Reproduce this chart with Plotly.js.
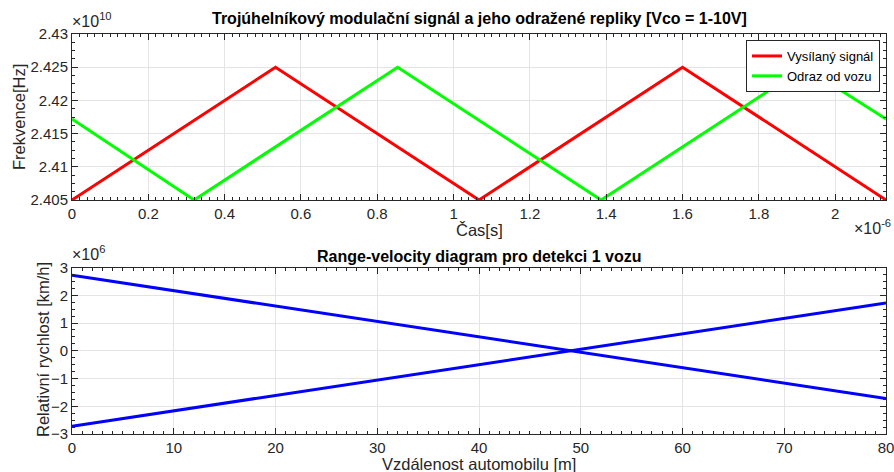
<!DOCTYPE html>
<html>
<head>
<meta charset="utf-8">
<script src="https://cdn.plot.ly/plotly-3.0.1.min.js"></script>
<style>
html,body{margin:0;padding:0;background:#fff;}
#chart{width:894px;height:472px;}
</style>
</head>
<body>
<div id="chart"></div>
<script>
// Top subplot: time in units of 1e-6 s, frequency in units of 1e10 Hz
const txTime = [0, 0.5333, 1.0667, 1.6, 2.1333];
const txFreq = [2.405, 2.425, 2.405, 2.425, 2.405];
const rxTime = [0, 0.32, 0.8533, 1.3867, 1.92, 2.1333];
const rxFreq = [2.4172, 2.405, 2.425, 2.405, 2.425, 2.4172];
const topNames = ["Vysílaný signál", "Odraz od vozu"];

// Bottom subplot: distance in m, relative velocity in units of 1e6 km/h
const distance = [0, 80];
const velLineA = [2.72, -1.72];
const velLineB = [-2.72, 1.72];

const FONT = 'Arial, "Liberation Sans", Helvetica, sans-serif';
const AX = '#262626';
const GRID = '#e4e4e4';

function axisBase(extra) {
  return Object.assign({
    showline: true, linecolor: AX, linewidth: 1, mirror: 'ticks',
    ticks: 'inside', ticklen: 6, tickwidth: 1, tickcolor: AX,
    showgrid: true, gridcolor: GRID, gridwidth: 1,
    zeroline: false, automargin: false, ticklabeloverflow: 'allow',
    tickfont: {family: FONT, size: 15, color: AX}
  }, extra);
}

const traces = [
  {x: txTime, y: txFreq, name: topNames[0], type: 'scatter', mode: 'lines',
   line: {color: '#ff0000', width: 3}, xaxis: 'x', yaxis: 'y'},
  {x: rxTime, y: rxFreq, name: topNames[1], type: 'scatter', mode: 'lines',
   line: {color: '#00ff00', width: 3}, xaxis: 'x', yaxis: 'y'},
  {x: distance, y: velLineA, type: 'scatter', mode: 'lines', showlegend: false,
   line: {color: '#0000ff', width: 3}, xaxis: 'x2', yaxis: 'y2'},
  {x: distance, y: velLineB, type: 'scatter', mode: 'lines', showlegend: false,
   line: {color: '#0000ff', width: 3}, xaxis: 'x2', yaxis: 'y2'}
];

const xd = [72/894, 886/894];
const topDom = [(472-200)/472, (472-34)/472];
const botDom = [(472-434)/472, (472-267.5)/472];

const layout = {
  width: 894, height: 472,
  margin: {l: 0, r: 0, t: 0, b: 0},
  paper_bgcolor: '#ffffff', plot_bgcolor: '#ffffff',
  font: {family: FONT, color: AX},
  showlegend: true,
  legend: {
    x: 880/894, xanchor: 'right', y: (472-40)/472, yanchor: 'top',
    bgcolor: '#ffffff', bordercolor: AX, borderwidth: 1,
    font: {family: FONT, size: 13, color: '#000'},
    tracegroupgap: 0, itemwidth: 30
  },
  xaxis: axisBase({domain: xd, anchor: 'y', range: [0, 2.1333], dtick: 0.2, tick0: 0, ticklabelstandoff: 0,
    minor: {dtick: 0.02, ticklen: 3, tickcolor: AX, ticks: 'inside', showgrid: false}}),
  yaxis: axisBase({domain: topDom, anchor: 'x', range: [2.405, 2.43], dtick: 0.005, tick0: 2.405,
    tickformat: '.3~f',
    minor: {dtick: 0.00125, ticklen: 3, tickcolor: AX, ticks: 'inside', showgrid: false}}),
  xaxis2: axisBase({domain: xd, anchor: 'y2', range: [0, 80], dtick: 10, tick0: 0, ticklabelstandoff: 0,
    minor: {dtick: 1, ticklen: 3, tickcolor: AX, ticks: 'inside', showgrid: false}}),
  yaxis2: axisBase({domain: botDom, anchor: 'x2', range: [-3, 3], dtick: 1, tick0: 0,
    minor: {dtick: 0.25, ticklen: 3, tickcolor: AX, ticks: 'inside', showgrid: false}}),
  annotations: [
    {text: '<b>Trojúhelníkový modulační signál a jeho odražené repliky [Vco = 1-10V]</b>',
     xref: 'paper', yref: 'paper', x: 479/894, y: (472-18)/472, xanchor: 'center', yanchor: 'middle',
     showarrow: false, font: {family: FONT, size: 16, color: '#000'}},
    {text: '<b>Range-velocity diagram pro detekci 1 vozu</b>',
     xref: 'paper', yref: 'paper', x: 479/894, y: (472-256)/472, xanchor: 'center', yanchor: 'middle',
     showarrow: false, font: {family: FONT, size: 16, color: '#000'}},
    {text: '×10<sup>10</sup>', xref: 'paper', yref: 'paper', x: 70/894, y: (472-32)/472,
     xanchor: 'left', yanchor: 'bottom', showarrow: false, font: {family: FONT, size: 16, color: AX}},
    {text: '×10<sup>6</sup>', xref: 'paper', yref: 'paper', x: 70/894, y: (472-265)/472,
     xanchor: 'left', yanchor: 'bottom', showarrow: false, font: {family: FONT, size: 16, color: AX}},
    {text: '×10<sup>-6</sup>', xref: 'paper', yref: 'paper', x: 893/894, y: (472-227)/472,
     xanchor: 'right', yanchor: 'middle', showarrow: false, font: {family: FONT, size: 16, color: AX}},
    {text: 'Čas[s]', xref: 'paper', yref: 'paper', x: 479/894, y: (472-230)/472,
     xanchor: 'center', yanchor: 'middle', showarrow: false, font: {family: FONT, size: 16.5, color: AX}},
    {text: 'Vzdálenost automobilu [m]', xref: 'paper', yref: 'paper', x: 479/894, y: (472-464)/472,
     xanchor: 'center', yanchor: 'middle', showarrow: false, font: {family: FONT, size: 16.5, color: AX}},
    {text: 'Frekvence[Hz]', xref: 'paper', yref: 'paper', x: 19/894, y: (472-117)/472, textangle: -90,
     xanchor: 'center', yanchor: 'middle', showarrow: false, font: {family: FONT, size: 16.5, color: AX}},
    {text: 'Relativní rychlost [km/h]', xref: 'paper', yref: 'paper', x: 43/894, y: (472-350)/472, textangle: -90,
     xanchor: 'center', yanchor: 'middle', showarrow: false, font: {family: FONT, size: 16.5, color: AX}}
  ]
};

Plotly.newPlot('chart', traces, layout, {displayModeBar: false, staticPlot: true});
</script>
</body>
</html>
